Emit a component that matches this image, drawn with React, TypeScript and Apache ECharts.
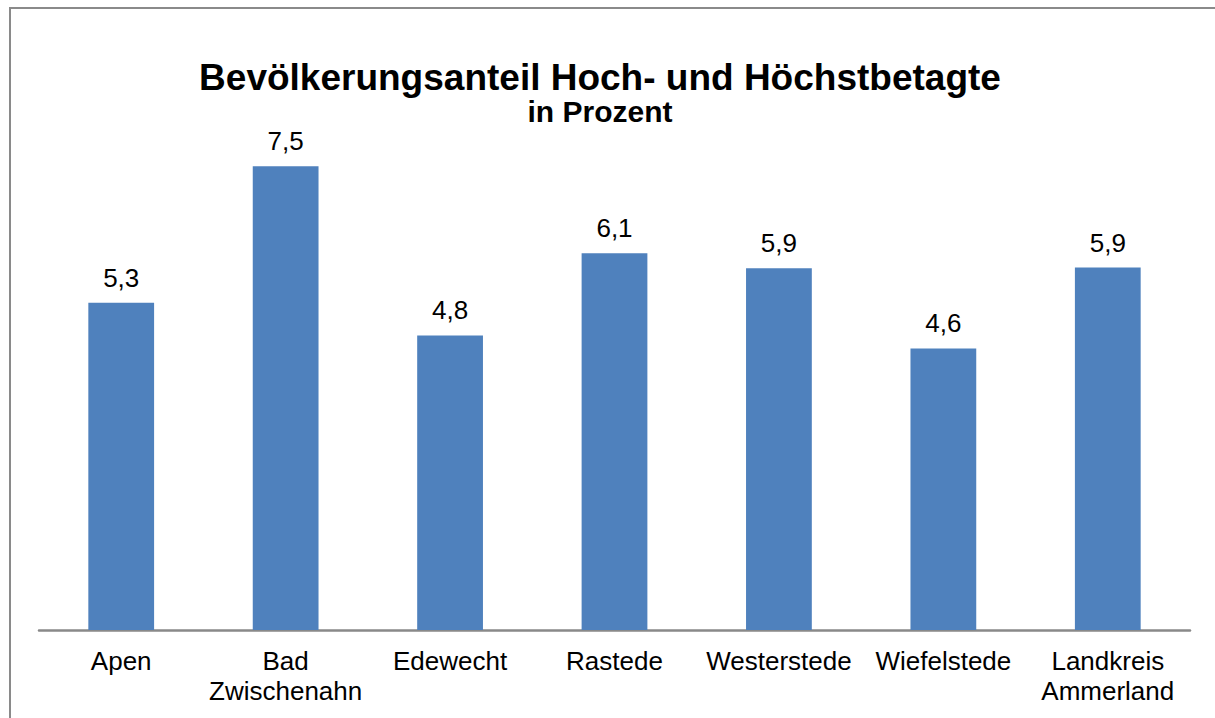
import React, { useEffect, useRef } from "react";
import * as echarts from "echarts";

const categories = [
  "Apen",
  "Bad\nZwischenahn",
  "Edewecht",
  "Rastede",
  "Westerstede",
  "Wiefelstede",
  "Landkreis\nAmmerland",
];
const values = [5.3, 7.51, 4.77, 6.1, 5.86, 4.56, 5.87];
const titleText = "Bevölkerungsanteil Hoch- und Höchstbetagte";
const subtitleText = "in Prozent";

const FONT = "'Liberation Sans', Arial, sans-serif";

export default function App() {
  const ref = useRef<HTMLDivElement>(null);
  useEffect(() => {
    if (!ref.current) return;
    const chart = echarts.init(ref.current, undefined, { renderer: "svg" });
    chart.setOption({
      animation: false,
      backgroundColor: "#ffffff",
      grid: { left: 39, right: 25, top: 136, bottom: 88, containLabel: false },
      xAxis: {
        type: "category",
        data: categories,
        axisLine: { show: true, lineStyle: { color: "#898989", width: 2.5 } },
        axisTick: { show: false },
        axisLabel: {
          color: "#000000",
          fontFamily: FONT,
          fontSize: 26,
          lineHeight: 30,
          margin: 16,
          interval: 0,
        },
      },
      yAxis: {
        type: "value",
        min: 0,
        max: 8,
        interval: 1,
        show: false,
        splitLine: { show: false },
      },
      series: [
        {
          type: "bar",
          data: values,
          barWidth: "40%",
          itemStyle: { color: "#4F81BD" },
          label: {
            show: true,
            position: "top",
            distance: 12,
            color: "#000000",
            fontFamily: FONT,
            fontSize: 26,
            formatter: (p: any) => Number(p.value).toFixed(1).replace(".", ","),
          },
        },
      ],
      graphic: [
        {
          type: "rect",
          shape: { x: 10, y: 8, width: 1400, height: 900 },
          style: { fill: "none", stroke: "#8a8a8a", lineWidth: 2 },
          silent: true,
        },
        {
          type: "text",
          x: 600,
          y: 77,
          style: {
            text: titleText,
            fill: "#000000",
            font: `bold 37px ${FONT}`,
            textAlign: "center",
            textVerticalAlign: "middle",
          },
        },
        {
          type: "text",
          x: 600,
          y: 111,
          style: {
            text: subtitleText,
            fill: "#000000",
            font: `bold 30px ${FONT}`,
            textAlign: "center",
            textVerticalAlign: "middle",
          },
        },
      ],
    });
    return () => chart.dispose();
  }, []);
  return (
    <div
      ref={ref}
      style={{ position: "fixed", left: 0, top: 0, width: 1215, height: 718 }}
    />
  );
}
